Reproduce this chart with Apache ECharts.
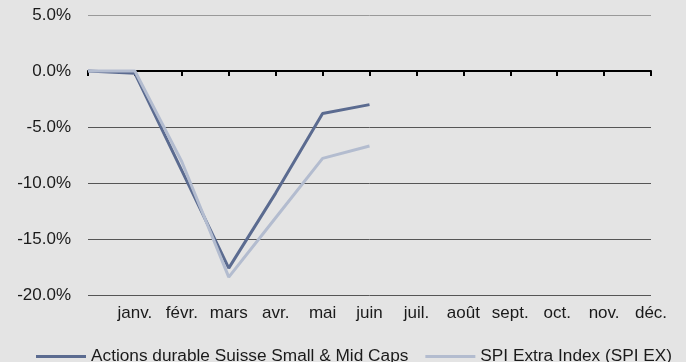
<!DOCTYPE html>
<html>
<head>
<meta charset="utf-8">
<script src="https://cdn.jsdelivr.net/npm/echarts@6/dist/echarts.min.js"></script>
<style>
  html, body { margin: 0; padding: 0; background: #e4e4e4; }
  #chart { width: 686px; height: 362px; }
</style>
</head>
<body>
<div id="chart"></div>
<script>
// Month labels (the first slot is the start point, unlabeled)
const months = ['', 'janv.', 'févr.', 'mars', 'avr.', 'mai', 'juin', 'juil.', 'août', 'sept.', 'oct.', 'nov.', 'déc.'];

// Cumulative performance in %
const fundName = 'Actions durable Suisse Small & Mid Caps';
const fundValues = [0.0, -0.2, -8.9, -17.6, -10.9, -3.8, -3.0, null, null, null, null, null, null];

const indexName = 'SPI Extra Index (SPI EX)';
const indexValues = [0.0, 0.0, -8.1, -18.4, -13.1, -7.8, -6.7, null, null, null, null, null, null];

const fundColor = '#5b6b90';
const indexColor = '#b3bccf';
const font = "'Liberation Sans', Arial, sans-serif";

const chart = echarts.init(document.getElementById('chart'), null, { renderer: 'canvas' });

chart.setOption({
  backgroundColor: '#e4e4e4',
  animation: false,
  textStyle: { fontFamily: font },
  grid: { left: 88, right: 35, top: 15, bottom: 67 },
  legend: {
    left: 31,
    top: 343,
    icon: 'rect',
    itemWidth: 50,
    itemHeight: 3,
    itemGap: 17,
    textStyle: { fontFamily: font, fontSize: 17.25, color: '#1a1a1a' },
    data: [
      { name: fundName, itemStyle: { color: fundColor } },
      { name: indexName, itemStyle: { color: indexColor } }
    ]
  },
  xAxis: [
    {
      // zero line with tick marks
      type: 'category',
      data: months,
      boundaryGap: false,
      axisLine: { onZero: true, lineStyle: { color: '#000', width: 2 } },
      axisTick: { show: true, length: 5, lineStyle: { color: '#000', width: 2 }, interval: 0 },
      axisLabel: { show: false },
      splitLine: { show: false }
    },
    {
      // month labels along the bottom
      type: 'category',
      data: months,
      boundaryGap: false,
      position: 'bottom',
      axisLine: { show: false, onZero: false },
      axisTick: { show: false },
      axisLabel: { interval: 0, margin: 10, fontFamily: font, fontSize: 17, color: '#1a1a1a' },
      splitLine: { show: false }
    }
  ],
  yAxis: {
    type: 'value',
    min: -20,
    max: 5,
    interval: 5,
    axisLine: { show: false },
    axisTick: { show: false },
    axisLabel: {
      margin: 17,
      fontFamily: font,
      fontSize: 17,
      color: '#1a1a1a',
      formatter: v => v.toFixed(1) + '%'
    },
    splitLine: {
      lineStyle: { color: ['#555', '#555', '#555', '#555', '#555', '#999'], width: 1 }
    }
  },
  series: [
    {
      name: fundName,
      type: 'line',
      xAxisIndex: 0,
      data: fundValues,
      symbol: 'none',
      lineStyle: { color: fundColor, width: 3 },
      itemStyle: { color: fundColor }
    },
    {
      name: indexName,
      type: 'line',
      xAxisIndex: 0,
      data: indexValues,
      symbol: 'none',
      lineStyle: { color: indexColor, width: 3 },
      itemStyle: { color: indexColor }
    }
  ]
});
</script>
</body>
</html>
